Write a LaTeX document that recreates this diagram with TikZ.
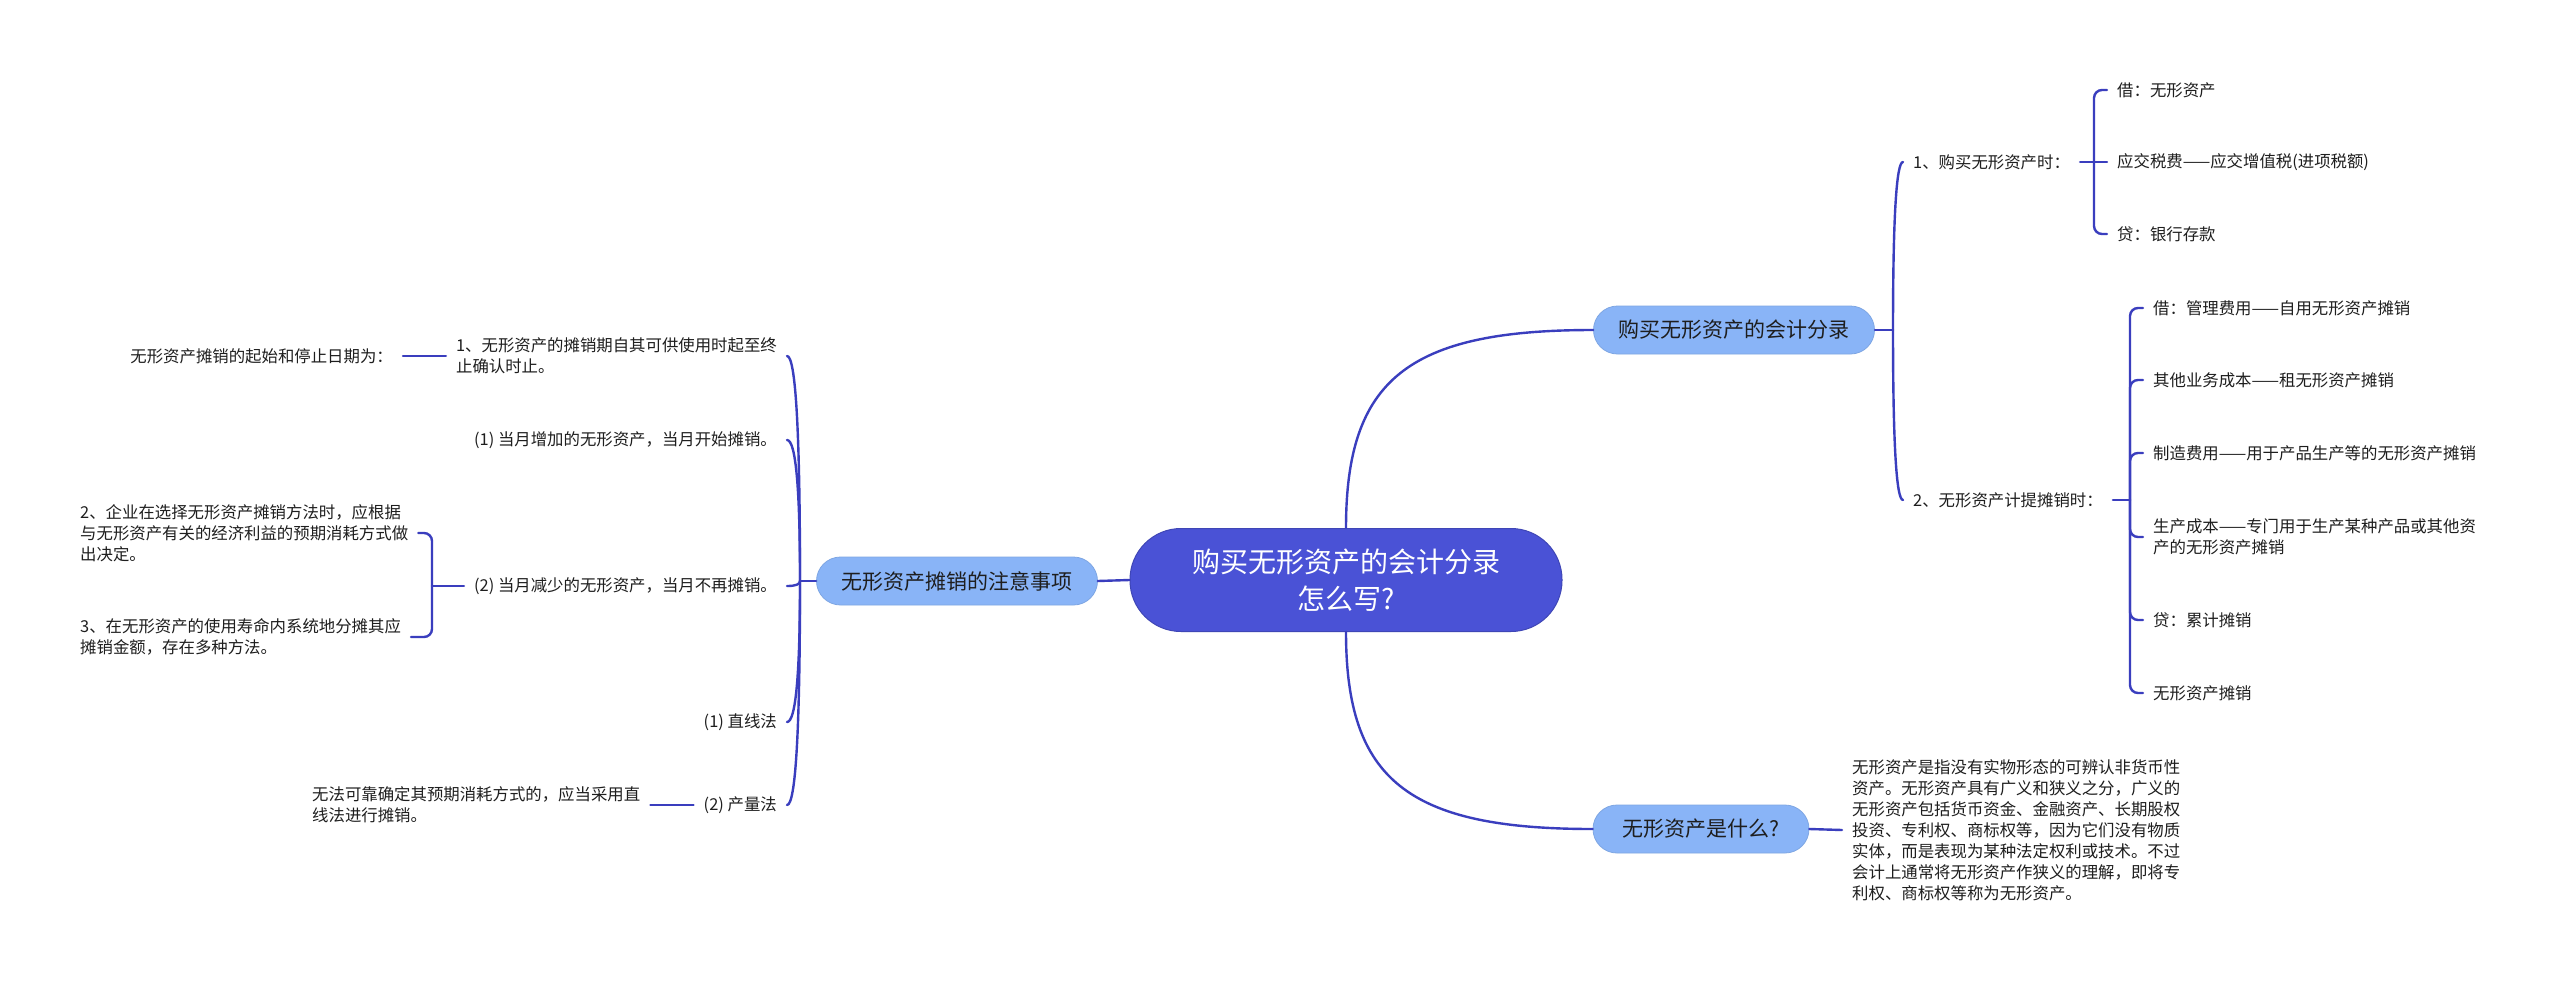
\documentclass[tikz,border=0pt]{standalone}
\usepackage{fontspec}
\setmainfont{Noto Sans CJK SC}
\usetikzlibrary{calc}
\definecolor{rootc}{RGB}{74,82,214}
\definecolor{subc}{RGB}{137,180,247}
\definecolor{linec}{RGB}{58,62,190}
\definecolor{txtc}{RGB}{30,30,30}
\tikzset{
  rootnode/.style={rectangle, rounded corners=51pt, fill=rootc, draw=rootc!85!black, line width=1pt,
    minimum width=432pt, minimum height=103pt, text=white, font=\fontsize{28}{37}\selectfont,
    align=center, inner sep=0pt},
  subnode/.style={rectangle, rounded corners=24pt, fill=subc, draw=subc!92!black, line width=0.8pt,
    minimum height=48pt, text=txtc, font=\fontsize{21}{26}\selectfont, inner xsep=0pt, inner ysep=0pt},
  leaf/.style={text=txtc, font=\fontsize{16.4}{21}\selectfont, align=left, inner xsep=10pt, inner ysep=2pt},
  conn/.style={draw=linec, line width=2.4pt, line cap=round},
}
\newcommand\mmcurve[2]{\draw[conn] (#1) .. controls ($(#1)!0.667!(#1 |- #2)$) and ($(#2)!0.667!(#1 |- #2)$) .. (#2);}
\begin{document}
\begin{tikzpicture}[x=1pt,y=-1pt]
\useasboundingbox[fill=white] (0,0) rectangle (2560,983);
% main nodes
\node[rootnode] (root) at (1346,580) {购买无形资产的会计分录\\怎么写?};
\node[subnode, minimum width=281pt] (A) at (1734,330) {购买无形资产的会计分录};
\node[subnode, minimum width=216pt] (B) at (1701,829) {无形资产是什么?};
\node[subnode, minimum width=281pt] (C) at (957,581) {无形资产摊销的注意事项};
% right leaves
\node[leaf, anchor=west] (r1) at (1903,162) {1、购买无形资产时：};
\node[leaf, anchor=west] (r1a) at (2107,90) {借：无形资产};
\node[leaf, anchor=west] (r1b) at (2107,162) {应交税费——应交增值税(进项税额)};
\node[leaf, anchor=west] (r1c) at (2107,234) {贷：银行存款};
\node[leaf, anchor=west] (r2) at (1903,500) {2、无形资产计提摊销时：};
\node[leaf, anchor=west] (r2a) at (2143,308) {借：管理费用——自用无形资产摊销};
\node[leaf, anchor=west] (r2b) at (2143,380) {其他业务成本——租无形资产摊销};
\node[leaf, anchor=west] (r2c) at (2143,453) {制造费用——用于产品生产等的无形资产摊销};
\node[leaf, anchor=west] (r2d) at (2143,537) {生产成本——专门用于生产某种产品或其他资\\产的无形资产摊销};
\node[leaf, anchor=west] (r2e) at (2143,620) {贷：累计摊销};
\node[leaf, anchor=west] (r2f) at (2143,693) {无形资产摊销};
\node[leaf, anchor=west] (bt) at (1842,830) {无形资产是指没有实物形态的可辨认非货币性\\资产。无形资产具有广义和狭义之分，广义的\\无形资产包括货币资金、金融资产、长期股权\\投资、专利权、商标权等，因为它们没有物质\\实体，而是表现为某种法定权利或技术。不过\\会计上通常将无形资产作狭义的理解，即将专\\利权、商标权等称为无形资产。};
% left leaves
\node[leaf, anchor=east] (l1) at (787,356) {1、无形资产的摊销期自其可供使用时起至终\\止确认时止。};
\node[leaf, anchor=east] (l1a) at (403,356) {无形资产摊销的起始和停止日期为：};
\node[leaf, anchor=east] (l2) at (787,440) {(1)\ 当月增加的无形资产，当月开始摊销。};
\node[leaf, anchor=east] (l3) at (787,586) {(2)\ 当月减少的无形资产，当月不再摊销。};
\node[leaf, anchor=west] (l3a) at (70,533) {2、企业在选择无形资产摊销方法时，应根据\\与无形资产有关的经济利益的预期消耗方式做\\出决定。};
\node[leaf, anchor=west] (l3b) at (70,637) {3、在无形资产的使用寿命内系统地分摊其应\\摊销金额，存在多种方法。};
\node[leaf, anchor=east] (l4) at (787,722) {(1)\ 直线法};
\node[leaf, anchor=east] (l5) at (787,805) {(2)\ 产量法};
\node[leaf, anchor=west] (l5a) at (302,805) {无法可靠确定其预期消耗方式的，应当采用直\\线法进行摊销。};
% junction coordinates
\coordinate (jr) at (1893,330);
\coordinate (jl) at (800,581);
\coordinate (b1) at (2094,162);
\coordinate (b2) at (2130,500);
\coordinate (bl) at (432,586);
% root connectors
\draw[conn] (root.north) .. controls ($(root.north)!0.75!(root.north |- A.west)$) and ($(A.west)!0.75!(root.north |- A.west)$) .. (A.west);
\draw[conn] (root.south) .. controls ($(root.south)!0.75!(root.south |- B.west)$) and ($(B.west)!0.75!(root.south |- B.west)$) .. (B.west);
\draw[conn] (root.west) -- (C.east);
% right side
\draw[conn] (A.east) -- (jr);
\mmcurve{jr}{r1.west}
\mmcurve{jr}{r2.west}
\draw[conn] (r1.east) -- (b1);
\draw[conn, rounded corners=8pt] (b1) |- (r1a.west);
\draw[conn] (b1) -- (r1b.west);
\draw[conn, rounded corners=8pt] (b1) |- (r1c.west);
\draw[conn] (r2.east) -- (b2);
\draw[conn, rounded corners=8pt] (b2) |- (r2a.west);
\draw[conn, rounded corners=8pt] (b2) |- (r2b.west);
\draw[conn, rounded corners=8pt] (b2) |- (r2c.west);
\draw[conn, rounded corners=8pt] (b2) |- (r2d.west);
\draw[conn, rounded corners=8pt] (b2) |- (r2e.west);
\draw[conn, rounded corners=8pt] (b2) |- (r2f.west);
\draw[conn] (B.east) -- (bt.west);
% left side
\draw[conn] (C.west) -- (jl);
\mmcurve{jl}{l1.east}
\mmcurve{jl}{l2.east}
\mmcurve{jl}{l3.east}
\mmcurve{jl}{l4.east}
\mmcurve{jl}{l5.east}
\draw[conn] (l1.west) -- (l1a.east);
\draw[conn] (l3.west) -- (bl);
\draw[conn, rounded corners=8pt] (bl) |- (l3a.east);
\draw[conn, rounded corners=8pt] (bl) |- (l3b.east);
\draw[conn] (l5.west) -- (l5a.east);
\end{tikzpicture}
\end{document}
